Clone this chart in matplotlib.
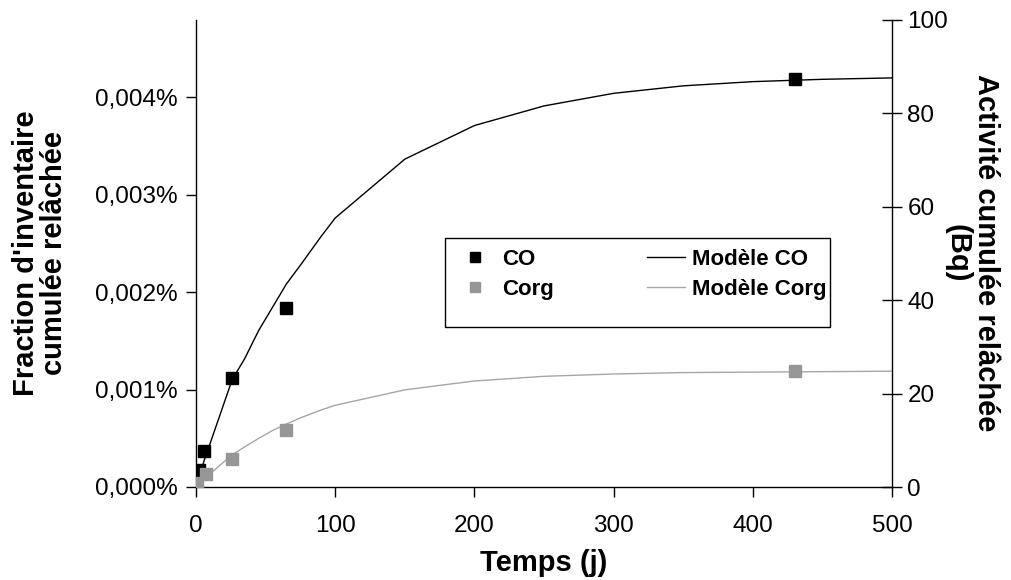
import matplotlib
matplotlib.use("Agg")
import matplotlib.pyplot as plt
from matplotlib.ticker import FuncFormatter
from matplotlib.lines import Line2D
from matplotlib.patches import Rectangle

plt.rcParams["font.family"] = ["Liberation Sans", "DejaVu Sans"]

# measured points (days, Bq)
co_t = [0.3, 2, 6, 26, 65, 430]
co_bq = [1.2, 3.6, 7.8, 23.3, 38.3, 87.4]
corg_t = [0.5, 7, 26, 65, 430]
corg_bq = [0.8, 2.7, 6.0, 12.2, 24.8]

# model curves
model_t = [0, 2, 6, 10, 26, 35, 45, 55, 65, 75, 90, 100, 150, 200, 250, 300, 350, 400, 450, 500]
model_co = [0, 1.9, 5.8, 9.2, 23.0, 27.5, 33.5, 38.5, 43.5, 47.5, 53.7, 57.6, 70.2, 77.4, 81.6,
            84.3, 85.9, 86.8, 87.3, 87.6]
model_corg = [0, 0.6, 1.8, 2.8, 6.9, 8.6, 10.4, 12.1, 13.5, 14.8, 16.5, 17.5, 20.8, 22.7, 23.7,
              24.2, 24.5, 24.6, 24.7, 24.8]

pct_ticks = [0, 0.001, 0.002, 0.003, 0.004]
bq_ticks = [0, 20, 40, 60, 80, 100]
t_ticks = [0, 100, 200, 300, 400, 500]

GREY_PT = "#969696"
GREY_LN = "#a6a6a6"

fig = plt.figure(figsize=(10.12, 5.8), dpi=100)
ax = fig.add_axes([196 / 1012, 1 - 487 / 580, (892 - 196) / 1012, (487 - 20) / 580])
ax2 = ax.twinx()

ax2.plot(model_t, model_co, "-", color="black", lw=1.0, zorder=2)
ax2.plot(model_t, model_corg, "-", color=GREY_LN, lw=1.0, zorder=2)
ax2.plot(co_t, co_bq, "s", color="black", ms=8.5, ls="none", zorder=3)
ax2.plot(corg_t, corg_bq, "s", color=GREY_PT, ms=8.5, ls="none", zorder=3)

ax.set_xlim(0, 500)
ax.set_ylim(0, 0.00479)
ax2.set_ylim(0, 100)
ax.set_xticks(t_ticks)
ax.set_yticks(pct_ticks)
ax2.set_yticks(bq_ticks)
ax.yaxis.set_major_formatter(FuncFormatter(lambda v, p: f"{v:.3f}%".replace(".", ",")))

for a in (ax, ax2):
    a.spines["top"].set_visible(False)
    for s in a.spines.values():
        s.set_linewidth(1.0)
ax.spines["right"].set_visible(False)
ax2.spines["left"].set_visible(False)
ax2.spines["bottom"].set_visible(False)

ax.tick_params(axis="both", direction="out", length=7, width=1.0, labelsize=17.5, pad=6)
ax.tick_params(axis="x", pad=13)
ax2.tick_params(axis="y", direction="inout", length=14, width=1.0, labelsize=17.5, pad=4)

fig.text(544 / 1012, 1 - 563 / 580, "Temps (j)", ha="center", va="center",
         fontsize=21, fontweight="bold")
fig.text(40 / 1012, 1 - 253 / 580, "Fraction d'inventaire\ncumulée relâchée", rotation=90,
         ha="center", va="center", multialignment="center", fontsize=21,
         fontweight="bold", linespacing=1.0)
fig.text(972 / 1012, 1 - 253 / 580, "Activité cumulée relâchée\n(Bq)", rotation=-90,
         ha="center", va="center", multialignment="center", fontsize=21,
         fontweight="bold", linespacing=1.0)

handles = [
    Line2D([], [], marker="s", color="black", ls="none", ms=7),
    Line2D([], [], marker="s", color=GREY_PT, ls="none", ms=7),
    Line2D([], [], color="black", lw=1.0),
    Line2D([], [], color=GREY_LN, lw=1.0),
]
labels = ["CO", "Corg", "Modèle CO", "Modèle Corg"]
fig.legend(handles, labels, ncol=2, loc="upper left",
           bbox_to_anchor=(445 / 1012, 1 - 238 / 580), frameon=False,
           prop={"weight": "bold", "size": 16},
           handlelength=1.7, handletextpad=0.35, columnspacing=4.2,
           borderpad=0.5, labelspacing=0.4, borderaxespad=0)
# Excel-style legend box, a bit taller than the entries
fig.add_artist(Rectangle((445 / 1012, 1 - 327 / 580), (830 - 445) / 1012, (327 - 238) / 580,
                         transform=fig.transFigure, fill=False, edgecolor="black", lw=1.0))

fig.savefig("out.png", dpi=100)
